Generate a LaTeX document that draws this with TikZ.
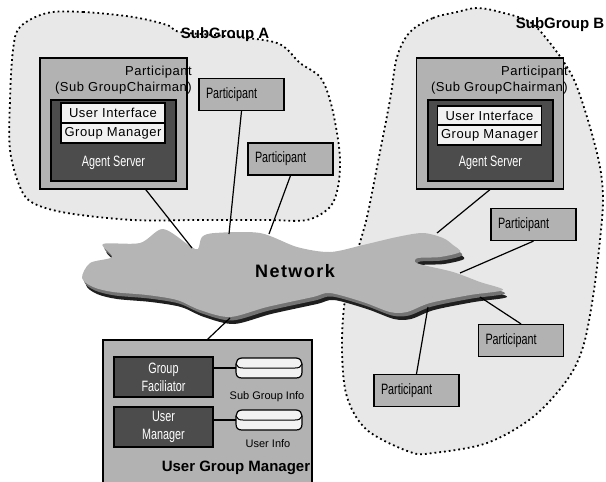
\documentclass[tikz,border=0pt]{standalone}
\usepackage{fontspec}
\setmainfont{Liberation Sans}
\newfontfamily\narrowfont[FakeStretch=0.72]{Liberation Sans}
\newfontfamily\spacedfont[LetterSpace=8]{Liberation Sans}
\newfontfamily\modulefont[LetterSpace=4]{Liberation Sans}
\definecolor{blobgray}{gray}{0.91}
\definecolor{boxgray}{gray}{0.70}
\definecolor{darkbox}{gray}{0.30}
\definecolor{whitebox}{gray}{0.95}
\definecolor{netgray}{gray}{0.71}
\definecolor{netshade}{gray}{0.45}
\definecolor{netblack}{gray}{0.12}
\tikzstyle{group_blob} = [fill=blobgray, line width=1.8pt, dash pattern=on 1.8pt off 3pt]
\tikzstyle{node_chair} = [draw, line width=1.2pt, fill=boxgray, minimum width=147pt, minimum height=131pt, inner sep=0pt]
\tikzstyle{node_agent} = [draw, line width=1.2pt, fill=darkbox, minimum width=125pt, minimum height=81pt, inner sep=0pt]
\tikzstyle{node_module} = [draw, line width=1.2pt, fill=whitebox, minimum width=104pt, minimum height=20pt, inner sep=0pt, font=\modulefont\fontsize{13}{15}\selectfont]
\tikzstyle{node_part} = [draw, line width=1.2pt, fill=boxgray, text width=71pt, inner xsep=7pt, minimum height=32pt, align=left, font=\narrowfont\fontsize{15}{17}\selectfont]
\tikzstyle{node_ugm} = [draw, line width=1.2pt, fill=boxgray, minimum width=209pt, minimum height=150pt, inner sep=0pt]
\tikzstyle{node_tool} = [draw, line width=1.2pt, fill=darkbox, text=white, minimum width=99pt, minimum height=40pt, inner sep=0pt, align=center, font=\narrowfont\fontsize{15}{18}\selectfont]
\tikzstyle{node_db} = [minimum width=66pt, minimum height=20pt, inner sep=0pt]
\tikzstyle{db_line} = [draw, line width=1.2pt, fill=whitebox]
\tikzstyle{text_chair} = [align=right, inner sep=0pt, font=\modulefont\fontsize{13}{16}\selectfont]
\tikzstyle{text_agent} = [text=white, inner sep=0pt, font=\narrowfont\fontsize{15}{17}\selectfont]
\tikzstyle{text_db} = [inner sep=0pt, font=\fontsize{11}{13}\selectfont]
\tikzstyle{label_title} = [inner sep=0pt, font=\bfseries\fontsize{15}{17}\selectfont]
\tikzstyle{edge_link} = [line width=1.2pt]
\newcommand{\dbdisk}[1]{%
	\draw[db_line, shift={(#1)}] (-27,-10) -- (27,-10) .. controls (31,-10) and (33,-7) .. (33,-4) -- (33,4) .. controls (33,8) and (31,10) .. (27,10) -- (-27,10) .. controls (-31,10) and (-33,8) .. (-33,4) -- (-33,-4) .. controls (-33,-7) and (-31,-10) .. (-27,-10) -- cycle;
	\draw[line width=1pt, shift={(#1)}] (-33,-4) .. controls (-32,-1) and (-30,0) .. (-26,0) -- (26,0) .. controls (30,0) and (32,-1) .. (33,-4);}

\begin{document}
\begin{tikzpicture}[x=1pt, y=-1pt]
		\useasboundingbox (0,0) rectangle (606,482);
		\def\netcloud{plot[smooth cycle, tension=0.5] coordinates {(82,278) (90,263) (112,257) (103,244) (140,243) (163,229) (190,246) (198,249) (202,237) (215,233) (260,233) (297,247) (330,252) (363,245) (397,237) (423,233) (443,238) (453,245) (460,252) (440,257) (418,258) (415,262) (423,265) (453,272) (480,282) (503,290) (470,295) (430,303) (407,312) (390,312) (363,302) (330,293) (313,297) (267,307) (230,317) (200,310) (177,300) (147,295) (113,292) (93,287)}}
		% sub groups
		\draw[group_blob] plot[smooth cycle, tension=0.55] coordinates {(47,13) (83,12) (133,17) (167,25) (180,32) (225,36) (277,43) (300,63) (320,77) (330,100) (337,133) (340,160) (338,187) (330,207) (307,220) (267,220) (200,220) (133,220) (67,213) (33,203) (20,187) (10,150) (10,100) (13,50) (20,27)};
		\draw[group_blob] plot[smooth cycle, tension=0.55] coordinates {(410,32) (433,18) (457,12) (477,8) (500,12) (530,22) (550,43) (567,67) (577,87) (590,127) (600,167) (603,200) (600,240) (593,297) (583,347) (567,380) (533,417) (487,443) (433,453) (410,452) (367,430) (347,397) (342,350) (345,300) (357,253) (367,217) (377,167) (390,100) (397,57)};
		\node (subA) at (225,35) [label_title] {SubGroup A};
		\node (subB) at (560,25) [label_title] {SubGroup B};
		% network
		\fill[netblack, shift={(4,7)}] \netcloud;
		\fill[netshade, shift={(2,3.5)}] \netcloud;
		\fill[netgray] \netcloud;
		\node (net) at (295,271) [inner sep=0pt, font=\spacedfont\bfseries\fontsize{18}{20}\selectfont] {Network};
		\coordinate (netA0) at (192,248);
		\coordinate (netA1) at (229,234);
		\coordinate (netA2) at (269,234);
		\coordinate (netB0) at (437,233);
		\coordinate (netB1) at (460,273);
		\coordinate (netB2) at (480,297);
		\coordinate (netB3) at (428,307);
		\coordinate (netU) at (230,318);
		% sub group A
		\node (chairA) at (113.5,123.5) [node_chair] {};
		\node (chairA_txt) at (192,80) [text_chair, anchor=east] {Participant\\(Sub GroupChairman)};
		\node (agentA) at (113.5,140.5) [node_agent] {};
		\node (uiA) at (113,113) [node_module] {User Interface};
		\node (gmA) at (113,133) [node_module] {Group Manager};
		\node (agentA_txt) at (113.5,163) [text_agent] {Agent Server};
		\node (partA1) at (241.5,94.5) [node_part] {Participant};
		\node (partA2) at (290.5,159) [node_part] {Participant};
		% sub group B
		\node (chairB) at (490,123.5) [node_chair] {};
		\node (chairB_txt) at (568,80) [text_chair, anchor=east] {Participant\\(Sub GroupChairman)};
		\node (agentB) at (490.5,140.5) [node_agent] {};
		\node (uiB) at (489.5,116) [node_module] {User Interface};
		\node (gmB) at (489.5,135) [node_module] {Group Manager};
		\node (agentB_txt) at (490.5,163) [text_agent] {Agent Server};
		\node (partB1) at (533.5,224.5) [node_part] {Participant};
		\node (partB2) at (521,340.5) [node_part] {Participant};
		\node (partB3) at (416.5,390.5) [node_part] {Participant};
		% user group manager
		\node (ugm) at (207.5,415) [node_ugm] {};
		\node (gf) at (163.5,377) [node_tool] {Group\\Faciliator};
		\node (um) at (163.5,427) [node_tool] {User\\Manager};
		\node (db1) at (269,368) [node_db] {};
		\node (db2) at (269,420) [node_db] {};
		\dbdisk{db1}
		\dbdisk{db2}
		\node (db1_txt) at (267,397) [text_db] {Sub Group Info};
		\node (db2_txt) at (268,444) [text_db] {User Info};
		\node (ugm_txt) at (236,468) [label_title] {User Group Manager};

		\draw[edge_link] (chairA.-64)--(netA0) (partA1.south)--(netA1) (partA2.south)--(netA2);
		\draw[edge_link] (chairB.south)--(netB0) (partB1.south)--(netB1) (partB2.north)--(netB2) (partB3.north)--(netB3);
		\draw[edge_link] (ugm.north)--(netU);
		\draw[edge_link] (db1.west)--(db1.west -| gf.east) (db2.west)--(db2.west -| um.east);
		\end{tikzpicture}
\end{document}
